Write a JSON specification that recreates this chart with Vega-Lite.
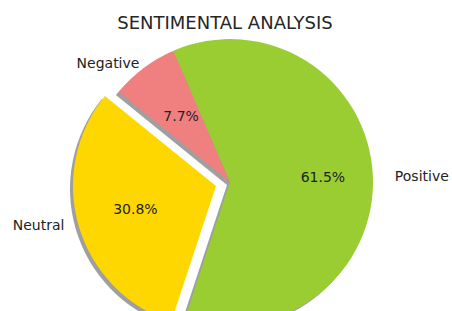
{
  "$schema": "https://vega.github.io/schema/vega-lite/v6.json",
  "width": 460,
  "height": 284,
  "autosize": "none",
  "padding": {"left": 0, "top": 40, "right": 0, "bottom": 0},
  "background": "white",
  "title": {"text": "SENTIMENTAL ANALYSIS", "fontSize": 18, "font": "DejaVu Sans", "fontWeight": "normal", "color": "#262626", "anchor": "middle", "frame": "group", "dx": -5, "dy": -2},
  "config": {"view": {"stroke": null}, "text": {"font": "DejaVu Sans", "fontSize": 14, "color": "#222222", "baseline": "middle"}},
  "data": {"values": [
    {"label": "Negative", "value": 1, "order": 0, "pct": "7.7%"},
    {"label": "Positive", "value": 8, "order": 1, "pct": "61.5%"},
    {"label": "Neutral", "value": 4, "order": 2, "pct": "30.8%"}
  ]},
  "encoding": {
    "theta": {"field": "value", "type": "quantitative", "stack": true, "scale": {"range": [-0.890, 5.393]}},
    "order": {"field": "order", "type": "quantitative"}
  },
  "layer": [
    {"mark": {"type": "arc", "radius": 143, "xOffset": -3, "yOffset": 3, "fill": "#404040"},
     "encoding": {"opacity": {"condition": {"test": "datum.label === 'Neutral'", "value": 0}, "value": 0.5}}},
    {"mark": {"type": "arc", "radius": 143, "xOffset": -17, "yOffset": 7, "fill": "#404040"},
     "encoding": {"opacity": {"condition": {"test": "datum.label === 'Neutral'", "value": 0.5}, "value": 0}}},
    {"mark": {"type": "arc", "radius": 143},
     "encoding": {
       "color": {"field": "label", "type": "nominal", "scale": {"domain": ["Negative", "Positive", "Neutral"], "range": ["#F08080", "#9ACD32", "#FFD700"]}, "legend": null},
       "opacity": {"condition": {"test": "datum.label === 'Neutral'", "value": 0}, "value": 1}}},
    {"mark": {"type": "arc", "radius": 143, "xOffset": -14, "yOffset": 4},
     "encoding": {
       "color": {"field": "label", "type": "nominal", "legend": null},
       "opacity": {"condition": {"test": "datum.label === 'Neutral'", "value": 1}, "value": 0}}},
    {"mark": {"type": "text", "radius": 93, "align": "center"},
     "encoding": {"text": {"condition": {"test": "datum.label === 'Positive'", "field": "pct"}, "value": ""}}},
    {"mark": {"type": "text", "radius": 81, "align": "center"},
     "encoding": {"text": {"condition": {"test": "datum.label === 'Negative'", "field": "pct"}, "value": ""}}},
    {"mark": {"type": "text", "radius": 84, "align": "center", "xOffset": -14, "yOffset": 4},
     "encoding": {"text": {"condition": {"test": "datum.label === 'Neutral'", "field": "pct"}, "value": ""}}},
    {"mark": {"type": "text", "radius": 165, "align": "left", "dy": 2},
     "encoding": {"text": {"condition": {"test": "datum.label === 'Positive'", "field": "label"}, "value": ""}}},
    {"mark": {"type": "text", "radius": 150, "align": "right", "dy": 2},
     "encoding": {"text": {"condition": {"test": "datum.label === 'Negative'", "field": "label"}, "value": ""}}},
    {"mark": {"type": "text", "radius": 158, "align": "right", "xOffset": -14, "yOffset": 4, "dy": -5},
     "encoding": {"text": {"condition": {"test": "datum.label === 'Neutral'", "field": "label"}, "value": ""}}}
  ]
}
